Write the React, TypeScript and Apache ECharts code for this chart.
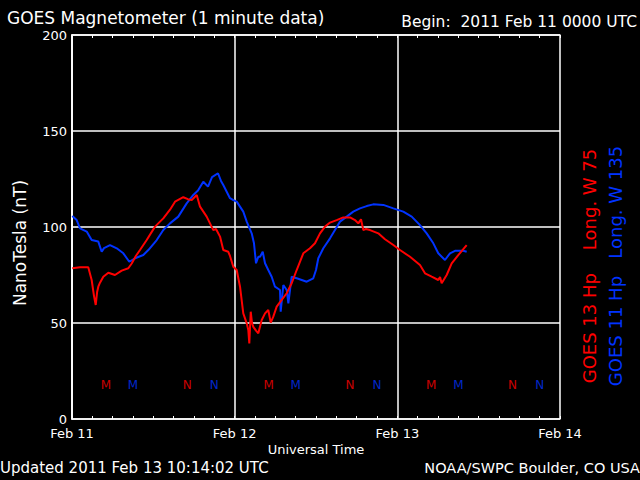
import React, { useEffect, useRef } from "react";
import * as echarts from "echarts";

// Hours since 2011 Feb 11 00:00 UT, and field values (nT)
const goes13Hours = [0.04, 1.18, 2.4, 2.9, 3.25, 3.5, 3.7, 3.88, 4.13, 4.62, 5.36, 6.34, 7.33, 8.31, 8.81, 9.44, 10.03, 11.02, 12.25, 13.47, 14.46, 15.2, 16.42, 17.1, 17.66, 18.4, 18.89, 19.87, 20.85, 21.25, 21.84, 22.32, 23.06, 23.31, 23.8, 24.3, 24.79, 25.27, 25.78, 26.01, 26.16, 26.37, 26.56, 26.75, 27.15, 27.49, 27.99, 28.48, 28.96, 29.32, 29.7, 30.2, 30.94, 31.68, 32.41, 33.15, 34.13, 35.11, 35.85, 36.59, 37.33, 38.07, 39.05, 40.03, 41.02, 41.75, 42.24, 42.64, 42.98, 43.38, 43.97, 45.19, 46.18, 47.41, 48.39, 49.87, 51.34, 52.08, 53.07, 54.04, 54.3, 54.54, 55.28, 56.02, 56.99, 58.23];
const goes13Values = [78.5, 79, 79, 72.4, 64, 59.4, 66, 68.9, 71, 74.1, 76.2, 75, 77.3, 78.5, 81, 85, 88, 93.2, 100.2, 104.5, 109, 113.2, 115.5, 114.5, 114, 116.7, 110.6, 105.4, 98.4, 99, 95, 88, 87.1, 84.9, 79.3, 77.6, 68.9, 55, 49.8, 46.4, 39.4, 55.9, 50, 48, 46, 44.6, 51.6, 55, 56.8, 50.2, 53.3, 58.5, 62, 65.5, 70.7, 77.6, 86.3, 88.9, 91.5, 96.7, 100.2, 102.3, 103.6, 105, 105, 103.6, 101.9, 104, 98.4, 99, 98.4, 96.7, 93.6, 90.6, 88, 84.5, 80.2, 75.9, 74.1, 72.4, 74, 70.7, 75, 81.1, 85.4, 90.6];

const goes11Hours = [0.04, 0.69, 1.18, 2.17, 2.9, 3.88, 4.38, 4.72, 5.61, 6.6, 7.57, 8.45, 9.3, 10.52, 11.26, 12.5, 13.47, 14.46, 15.68, 16.92, 17.9, 18.59, 19.37, 20.07, 20.66, 21.54, 21.98, 22.32, 23.31, 23.8, 24.3, 25.27, 25.78, 26.51, 26.85, 27.15, 27.49, 27.74, 28.14, 28.48, 28.96, 29.46, 29.95, 30.69, 30.79, 31.18, 31.68, 31.92, 32.41, 33.15, 33.89, 34.63, 35.6, 36.0, 36.34, 37.08, 38.07, 38.8, 39.54, 40.53, 41.5, 42.49, 43.48, 44.45, 45.93, 47.41, 48.88, 50.12, 51.34, 52.33, 53.31, 54.04, 55.03, 55.77, 56.51, 57.73, 58.23];
const goes11Values = [105.7, 103.6, 99.3, 97.6, 93.2, 92.4, 87.1, 89, 90.6, 88.9, 86.3, 81.9, 83.7, 85.4, 88, 93.2, 98.4, 101.9, 105.4, 112.3, 116.7, 119, 123.6, 121, 126, 128, 124, 121.9, 115, 114, 113.2, 108, 102.8, 96.7, 91.5, 81.1, 84.5, 84.5, 87.1, 81.1, 77.6, 74.1, 68.9, 67.2, 55.9, 69.8, 67.2, 60.2, 74.1, 73.3, 72.4, 71.5, 73.3, 77.6, 83.7, 88.9, 94.1, 98.4, 102.8, 105.4, 108, 109.7, 110.9, 111.8, 111.5, 109.7, 108, 105.4, 101, 96.7, 91.5, 86.3, 82.8, 86.3, 87.6, 87.6, 87.1];

// Local midnight (M) and noon (N) markers, hours UT
const goes13Midnight = [5, 29, 53];
const goes13Noon = [17, 41, 65];
const goes11Midnight = [9, 33, 57];
const goes11Noon = [21, 45, 69];
const markerLevel = 17.7;

const dayLabels = ["Feb 11", "Feb 12", "Feb 13", "Feb 14"];
const yTicks = [0, 50, 100, 150, 200];

const RED = "#ff0000";
const BLUE = "#0033ff";
const FONT = "DejaVu Sans";

function zip(h: number[], v: number[]) {
  return h.map((x, i) => [x, v[i]]);
}

function markerSeries(hours: number[], letter: string, color: string) {
  return {
    type: "scatter",
    xAxisIndex: 0,
    yAxisIndex: 0,
    symbol: "circle",
    symbolSize: 1,
    itemStyle: { color: "rgba(0,0,0,0)" },
    data: hours.map((h) => [h, markerLevel]),
    label: {
      show: true,
      position: "inside",
      formatter: letter,
      color,
      fontFamily: FONT,
      fontSize: 12,
    },
    silent: true,
  };
}

export default function App() {
  const ref = useRef<HTMLDivElement>(null);
  useEffect(() => {
    document.body.style.margin = "0";
    document.body.style.background = "#000";
    const chart = echarts.init(ref.current!, null, { renderer: "svg" });
    const tickAxisBase = {
      type: "value",
      min: 0,
      max: 72,
      interval: 3,
      axisLabel: { show: false },
      splitLine: { show: false },
      axisTick: { show: true, inside: true, length: 3, lineStyle: { color: "#fff", width: 1 } },
    };
    chart.setOption({
      animation: false,
      backgroundColor: "#000",
      grid: { left: 72, top: 35, width: 488, height: 384, containLabel: false },
      xAxis: [
        {
          type: "value",
          min: 0,
          max: 72,
          interval: 24,
          position: "bottom",
          axisLine: { show: true, lineStyle: { color: "#fff", width: 1.5 } },
          axisTick: { show: false },
          splitLine: { show: true, lineStyle: { color: "#fff", width: 1.5 } },
          axisLabel: {
            color: "#fff",
            fontFamily: FONT,
            fontSize: 13,
            margin: 8,
            formatter: (v: number) => dayLabels[Math.round(v / 24)] ?? "",
          },
        },
        { ...tickAxisBase, position: "bottom", axisLine: { show: false } },
        { ...tickAxisBase, position: "top", axisLine: { show: true, lineStyle: { color: "#fff", width: 1.5 } } },
      ],
      yAxis: [
        {
          type: "value",
          min: 0,
          max: 200,
          interval: 50,
          position: "left",
          axisLine: { show: true, lineStyle: { color: "#fff", width: 1.5 } },
          axisTick: { show: false },
          splitLine: { show: true, lineStyle: { color: "#fff", width: 1.5 } },
          axisLabel: {
            color: "#fff",
            fontFamily: FONT,
            fontSize: 13,
            margin: 5,
            formatter: (v: number) => (yTicks.includes(v) ? String(v) : ""),
          },
        },
        {
          type: "value",
          min: 0,
          max: 200,
          interval: 50,
          position: "right",
          axisLine: { show: true, lineStyle: { color: "#fff", width: 1.5 } },
          axisTick: { show: false },
          axisLabel: { show: false },
          splitLine: { show: false },
        },
      ],
      series: [
        {
          type: "line",
          name: "GOES 13",
          data: zip(goes13Hours, goes13Values),
          showSymbol: false,
          lineStyle: { color: RED, width: 2 },
          itemStyle: { color: RED },
          z: 3,
          silent: true,
        },
        {
          type: "line",
          name: "GOES 11",
          data: zip(goes11Hours, goes11Values),
          showSymbol: false,
          lineStyle: { color: BLUE, width: 2 },
          itemStyle: { color: BLUE },
          z: 2,
          silent: true,
        },
        markerSeries(goes13Midnight, "M", RED),
        markerSeries(goes11Midnight, "M", BLUE),
        markerSeries(goes13Noon, "N", RED),
        markerSeries(goes11Noon, "N", BLUE),
      ],
      graphic: [
        {
          type: "text",
          x: 7,
          y: 18,
          style: { text: "GOES Magnetometer (1 minute data)", fill: "#fff", font: `17px "${FONT}"`, textAlign: "left", textVerticalAlign: "middle" },
        },
        {
          type: "text",
          x: 637,
          y: 22,
          style: { text: "Begin:  2011 Feb 11 0000 UTC", fill: "#fff", font: `15.5px "${FONT}"`, textAlign: "right", textVerticalAlign: "middle" },
        },
        {
          type: "text",
          x: 316,
          y: 449,
          style: { text: "Universal Time", fill: "#fff", font: `13px "${FONT}"`, textAlign: "center", textVerticalAlign: "middle" },
        },
        {
          type: "text",
          x: 0,
          y: 468,
          style: { text: "Updated 2011 Feb 13 10:14:02 UTC", fill: "#fff", font: `15px "${FONT}"`, textAlign: "left", textVerticalAlign: "middle" },
        },
        {
          type: "text",
          x: 640,
          y: 468,
          style: { text: "NOAA/SWPC Boulder, CO USA", fill: "#fff", font: `14.5px "${FONT}"`, textAlign: "right", textVerticalAlign: "middle" },
        },
        {
          type: "text",
          x: 20,
          y: 243,
          rotation: Math.PI / 2,
          style: { text: "NanoTesla (nT)", fill: "#fff", font: `17px "${FONT}"`, textAlign: "center", textVerticalAlign: "middle" },
        },
        {
          type: "text",
          x: 589,
          y: 266,
          rotation: Math.PI / 2,
          style: { text: "GOES 13 Hp    Long. W 75", fill: RED, font: `18px "${FONT}"`, textAlign: "center", textVerticalAlign: "middle" },
        },
        {
          type: "text",
          x: 615,
          y: 266,
          rotation: Math.PI / 2,
          style: { text: "GOES 11 Hp   Long. W 135", fill: BLUE, font: `18px "${FONT}"`, textAlign: "center", textVerticalAlign: "middle" },
        },
      ],
    });
    return () => chart.dispose();
  }, []);
  return <div ref={ref} style={{ width: 640, height: 480, background: "#000" }} />;
}
